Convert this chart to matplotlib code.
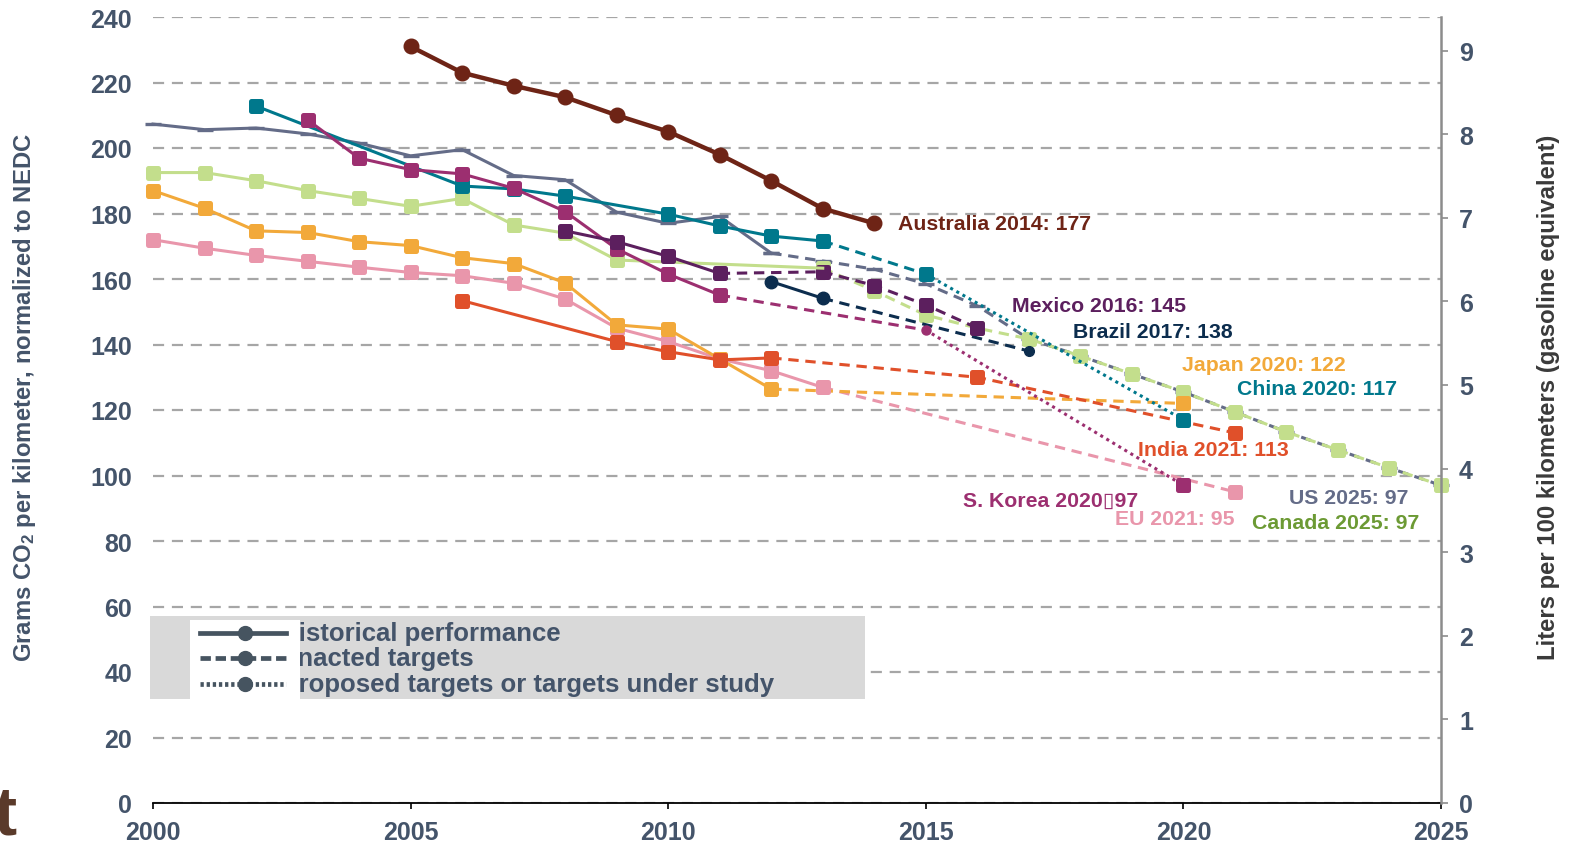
import matplotlib.pyplot as plt
from matplotlib.markers import MarkerStyle
from matplotlib.patches import Rectangle

plt.rcParams['font.family'] = ['Liberation Sans', 'DejaVu Sans']
plt.rcParams['font.weight'] = 'bold'
plt.rcParams['mathtext.fontset'] = 'custom'
plt.rcParams['mathtext.rm'] = 'Liberation Sans'
plt.rcParams['mathtext.bf'] = 'Liberation Sans:bold'
plt.rcParams['mathtext.default'] = 'bf'

# ---- data (g CO2/km, NEDC normalized) ----
aus_years = list(range(2005, 2015))
aus_vals = [231, 223, 219, 215.5, 210, 205, 198, 190, 181.5, 177]

us_years = list(range(2000, 2013))
us_vals = [207.3, 205.6, 206.1, 204.3, 201.5, 197.6, 199.5, 191.6, 190.3, 180.4, 177.0, 179.1, 167.9]
us_tgt_years = list(range(2012, 2026))
us_tgt_vals = [167.9, 165.5, 163.0, 158.5, 151.8, 141.7, 136.5, 131.0, 125.5, 119.4, 113.3, 107.8, 102.3, 97]

can_years = list(range(2000, 2010)) + [2013]
can_vals = [192.5, 192.5, 190.0, 187.0, 184.6, 182.2, 184.6, 176.5, 174.0, 165.8, 163.3]
can_tgt_years = list(range(2013, 2026))
can_tgt_vals = [163.3, 156.4, 149.0, 145.0, 141.7, 136.5, 131.0, 125.5, 119.4, 113.3, 107.8, 102.3, 97]

chn_years = [2002, 2006, 2007, 2008, 2010, 2011, 2012, 2013]
chn_vals = [212.8, 188.4, 187.5, 185.3, 179.8, 176.2, 173.1, 171.6]
chn_enacted_years = [2013, 2015]
chn_enacted_vals = [171.6, 161.5]
chn_prop_years = [2015, 2020]
chn_prop_vals = [161.5, 117]

kor_years = list(range(2003, 2012))
kor_vals = [208.6, 196.9, 193.4, 192.1, 187.7, 180.6, 169.2, 161.5, 155.1]
kor_enacted_years = [2011, 2015]
kor_enacted_vals = [155.1, 144.4]
kor_prop_years = [2015, 2020]
kor_prop_vals = [144.4, 97]

mex_years = [2008, 2009, 2010, 2011]
mex_vals = [174.7, 171.4, 166.9, 161.7]
mex_tgt_years = [2011, 2013, 2014, 2015, 2016]
mex_tgt_vals = [161.7, 162.2, 158.0, 152.1, 145]

bra_years = [2012, 2013]
bra_vals = [159.2, 154.1]
bra_tgt_years = [2013, 2017]
bra_tgt_vals = [154.1, 138]

ind_years = [2006, 2009, 2010, 2011, 2012]
ind_vals = [153.4, 140.9, 137.8, 135.3, 135.9]
ind_tgt_years = [2012, 2016, 2021]
ind_tgt_vals = [135.9, 130.0, 113]

jpn_years = list(range(2000, 2013))
jpn_vals = [187.0, 181.6, 174.7, 174.2, 171.4, 170.2, 166.5, 164.7, 158.8, 146.0, 144.7, 135.6, 126.4]
jpn_tgt_years = [2012, 2020]
jpn_tgt_vals = [126.4, 122]

eu_years = list(range(2000, 2014))
eu_vals = [172.0, 169.4, 167.2, 165.4, 163.6, 162.0, 161.0, 158.7, 153.9, 145.0, 140.9, 135.6, 132.0, 126.9]
eu_tgt_years = [2013, 2021]
eu_tgt_vals = [126.9, 95]

end_labels = ["Australia 2014: 177", "Mexico 2016: 145", "Brazil 2017: 138", "Japan 2020: 122",
              "China 2020: 117", "India 2021: 113", "S. Korea 2020\u25af97", "EU 2021: 95",
              "US 2025: 97", "Canada 2025: 97"]
legend_labels = ["historical performance", "enacted targets", "proposed targets or targets under study"]

G_PER_L = 25.53  # g CO2/km per L/100km

# colours
C_AUS = '#6E2416'
C_US = '#646C88'
C_CAN = '#C3DE8C'
C_CAN_TXT = '#6C9A34'
C_CHN = '#00788C'
C_KOR = '#9C2F70'
C_MEX = '#5C1F5E'
C_BRA = '#0C2D4E'
C_IND = '#E0502A'
C_JPN = '#F2A93A'
C_EU = '#E996AB'
SLATE = '#44546A'

DASH = (0, (3.4, 2.2))
DOT = (0, (1, 1.3))

sq = MarkerStyle('s', joinstyle='round')

fig = plt.figure(figsize=(15.71, 8.45), dpi=100)
ax = fig.add_axes([153 / 1571, 41 / 845, 1288 / 1571, 786 / 845])


def draw(x, y, color, ls='-', lw=2.2, marker=sq, ms=6.6, mew=3.6, every=None, z=3):
    ax.plot(x, y, color=color, ls=ls, lw=lw, marker=marker, ms=ms, mfc=color, mec=color,
            mew=mew, markevery=every, zorder=z, clip_on=False)


# targets (drawn first)
draw(us_tgt_years, us_tgt_vals, C_US, ls=DASH, marker='_', ms=11, mew=2.4, z=2)
draw(can_tgt_years, can_tgt_vals, C_CAN, ls=DASH, z=2.5)
draw(eu_tgt_years, eu_tgt_vals, C_EU, ls=DASH, every=[1])
draw(jpn_tgt_years, jpn_tgt_vals, C_JPN, ls=DASH, every=[1])
draw(ind_tgt_years, ind_tgt_vals, C_IND, ls=DASH, every=[1, 2])
draw(bra_tgt_years, bra_tgt_vals, C_BRA, ls=DASH, marker='o', ms=7, mew=1, every=[1])
draw(mex_tgt_years, mex_tgt_vals, C_MEX, ls=DASH, every=[1, 2, 3, 4])
draw(kor_enacted_years, kor_enacted_vals, C_KOR, ls=DASH, marker='o', ms=6.5, mew=1, every=[1])
draw(kor_prop_years, kor_prop_vals, C_KOR, ls=DOT, every=[1])
draw(chn_enacted_years, chn_enacted_vals, C_CHN, ls=DASH, every=[1])
draw(chn_prop_years, chn_prop_vals, C_CHN, ls=DOT, every=[1])

# historical performance
draw(us_years, us_vals, C_US, marker='_', ms=11, mew=2.4, z=3)
draw(can_years, can_vals, C_CAN, every=list(range(10)), z=3)
draw(eu_years, eu_vals, C_EU, z=3.1)
draw(jpn_years, jpn_vals, C_JPN, z=3.2)
draw(ind_years, ind_vals, C_IND, z=3.3)
draw(chn_years, chn_vals, C_CHN, z=3.4)
draw(kor_years, kor_vals, C_KOR, z=3.5)
draw(mex_years, mex_vals, C_MEX, z=3.6)
draw(bra_years, bra_vals, C_BRA, marker='o', ms=9, mew=1, z=3.6)
draw(aus_years, aus_vals, C_AUS, lw=3.2, marker='o', ms=10.5, mew=1, z=4)

# end labels
label_pos = [(2014.46, 176.8), (2016.67, 151.8), (2017.86, 144.1), (2019.97, 134.0),
             (2021.04, 126.7), (2019.12, 107.8), (2015.72, 92.5), (2018.67, 87.0),
             (2022.05, 93.4), (2021.33, 85.5)]
label_cols = [C_AUS, C_MEX, C_BRA, C_JPN, C_CHN, C_IND, C_KOR, C_EU, C_US, C_CAN_TXT]
for txt, (lx, ly), col in zip(end_labels, label_pos, label_cols):
    ax.text(lx, ly, txt, color=col, fontsize=15.3, fontweight='bold', ha='left', va='center',
            family=['Liberation Sans', 'DejaVu Sans'], zorder=6)

# axes styling
ax.set_xlim(2000, 2025)
ax.set_ylim(0, 240)
ax.set_xticks(range(2000, 2026, 5))
ax.set_yticks(range(0, 241, 20))
ax.yaxis.grid(True, color='#A6A6A6', lw=1.6, ls=(0, (5, 3.5)), zorder=0)
ax.set_axisbelow(True)
for s in ['left', 'top', 'right']:
    ax.spines[s].set_visible(False)
ax.spines['bottom'].set_color('black')
ax.spines['bottom'].set_linewidth(1.3)
ax.tick_params(axis='y', length=0, pad=15, labelsize=18, labelcolor=SLATE)
ax.tick_params(axis='x', direction='out', length=4, width=1.2, pad=8, labelsize=18, labelcolor=SLATE)

ax2 = ax.twinx()
ax2.set_ylim(0, 240 / G_PER_L)
ax2.set_yticks(range(0, 10))
for s in ['left', 'top', 'bottom']:
    ax2.spines[s].set_visible(False)
ax2.spines['right'].set_color('#8C8C8C')
ax2.spines['right'].set_linewidth(1.8)
ax2.tick_params(axis='y', direction='out', length=5, width=1.2, color='#8C8C8C', pad=8,
                labelsize=18, labelcolor=SLATE)

fig.text(25 / 1571, 1 - 398 / 845, 'Grams CO$_2$ per kilometer, normalized to NEDC', rotation=90,
         ha='center', va='center', fontsize=17.2, color=SLATE)
fig.text(1548 / 1571, 1 - 397 / 845, 'Liters per 100 kilometers (gasoline equivalent)', rotation=90,
         ha='center', va='center', fontsize=17.2, color='#3A3A3A')

# legend box (drawn by hand)
T = ax.transAxes
ax.add_patch(Rectangle((-0.0023, 0.1323), 0.5551, 0.1056, transform=T, facecolor='#D9D9D9',
                       edgecolor='none', zorder=5, clip_on=False))
row_y = [0.2160, 0.1845, 0.1520]
styles = ['-', (0, (2.2, 1.0)), (0, (0.7, 0.6))]
for yy, lab in zip(row_y, legend_labels):
    ax.text(0.1010, yy, lab, transform=T, fontsize=18.5, color=SLATE, ha='left', va='center',
            zorder=6)
ax.add_patch(Rectangle((0.0287, 0.1323), 0.0854, 0.1000, transform=T, facecolor='white',
                       edgecolor='none', zorder=7, clip_on=False))
for yy, st in zip(row_y, styles):
    ax.plot([0.0365, 0.1029], [yy, yy], transform=T, color='#465460', lw=3.4, ls=st, zorder=8,
            clip_on=False)
    ax.plot([0.0714], [yy], transform=T, marker='o', ms=10, color='#465460', zorder=8,
            clip_on=False)

# corner logo remnant
fig.text(-0.0045, -0.004, 't', fontsize=50, color='#5A3A2A', fontweight='bold', ha='left', va='bottom')

fig.savefig('out.png', dpi=100)
